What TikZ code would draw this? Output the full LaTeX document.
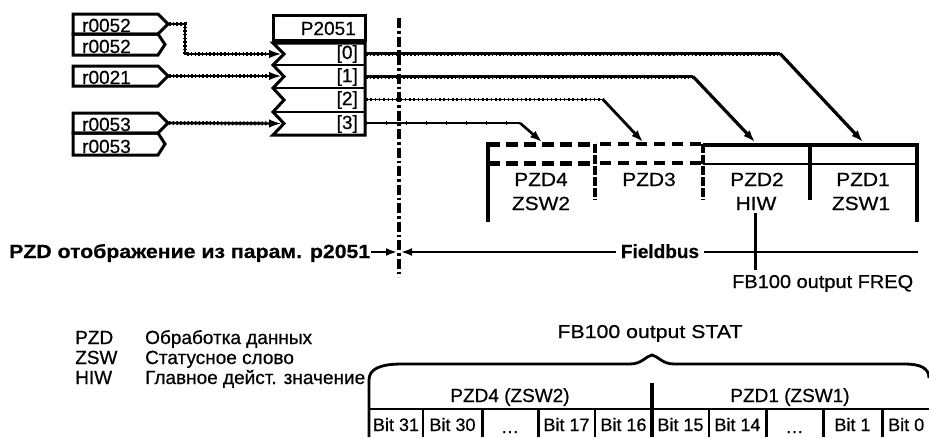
\documentclass[tikz,border=0pt]{standalone}
\usepackage{fontspec}
\usepackage{graphicx}
\setmainfont{Liberation Sans}
\newfontfamily\lblfont[FakeBold=0.6]{Liberation Sans}
\newfontfamily\bldfont[BoldFeatures={FakeBold=0.5}]{Liberation Sans}
\usetikzlibrary{arrows.meta}
\begin{document}
\begin{tikzpicture}[x=1pt,y=-1pt,line join=miter]
\tikzset{
  lbl/.style={inner sep=0pt, text=black, font=\lblfont\fontsize{19pt}{22pt}\selectfont},
  bits/.style={inner sep=0pt, text=black, font=\lblfont\fontsize{18pt}{20pt}\selectfont},
  boldlbl/.style={inner sep=0pt, font=\bldfont\fontsize{19pt}{22pt}\selectfont\bfseries},
  boxline/.style={line width=3pt},
  thinline/.style={line width=2.2pt},
  core/.style={line width=2.4pt},
  bumps/.style={line width=4pt, dash pattern=on 1.5pt off 2.2pt},
  coreb/.style={line width=1.8pt},
  bumpsb/.style={line width=3.4pt, dash pattern=on 1.5pt off 2.8pt},
  solidln/.style={line width=2.2pt},
  ticks/.style={line width=3.6pt, dash pattern=on 1pt off 19pt},
  tipA/.style={-{Latex[length=12pt,width=8.5pt]}},
  diag/.style={line width=3.2pt, tipA},
  dashdot/.style={line width=4pt, dash pattern=on 10pt off 3pt on 2.5pt off 3pt},
  heavydash/.style={line width=5pt, dash pattern=on 12pt off 6pt},
  meddash/.style={line width=4pt, dash pattern=on 11pt off 7pt},
  vdash/.style={line width=4pt, dash pattern=on 9pt off 2pt},
}
\useasboundingbox (0,0) rectangle (929,437);

% ---------- input parameter boxes ----------
\draw[boxline] (73,14) -- (158,14) -- (168,24) -- (158,34) -- (73,34) -- cycle;
\draw[boxline] (73,34) -- (158,34) -- (165,44.5) -- (158,55) -- (73,55) -- cycle;
\draw[boxline] (73,66) -- (158,66) -- (168,76) -- (158,86) -- (73,86) -- cycle;
\draw[boxline] (73,113) -- (158,113) -- (168,123) -- (158,133) -- (73,133) -- cycle;
\draw[boxline] (73,133) -- (158,133) -- (165,144) -- (158,155) -- (73,155) -- cycle;
\node[lbl, anchor=base west] (ra) at (82,32) {r0052};
\node[lbl, anchor=base west] (rb) at (82,53) {r0052};
\node[lbl, anchor=base west] (rc) at (82,84) {r0021};
\node[lbl, anchor=base west] (rd) at (82,131) {r0053};
\node[lbl, anchor=base west] (re) at (82,153) {r0053};
\coordinate (ina) at (169,24);
\coordinate (inc) at (169,76);
\coordinate (ind) at (169,123);

% ---------- P2051 block ----------
\draw[boxline] (273,15) rectangle (365,40);
\node[lbl, anchor=base east] (ptitle) at (356,35) {P2051};
\draw[boxline] (273,43) -- (284,54) -- (273,65) -- (284,76.5) -- (273,88) -- (284,100) -- (273,112) -- (284,123.5) -- (273,135) -- (365,135) -- (365,43) -- cycle;
\draw[thinline] (273,65) -- (365,65);
\draw[thinline] (273,88) -- (365,88);
\draw[thinline] (273,112) -- (365,112);
\node[lbl, anchor=base east] (i0) at (358,59) {[0]};
\node[lbl, anchor=base east] (i1) at (358,82) {[1]};
\node[lbl, anchor=base east] (i2) at (358,105) {[2]};
\node[lbl, anchor=base east] (i3) at (358,129) {[3]};
\coordinate (n0) at (281,54);
\coordinate (n1) at (281,76);
\coordinate (n3) at (281,123.5);

% input connectors
\coordinate (ka) at (185,24);
\coordinate (kb) at (185,54);
\draw[core] (ina) -- (ka) -- (kb) -- ([xshift=-9pt]n0);
\draw[bumps] (ina) -- (ka) -- (kb) -- ([xshift=-9pt]n0);
\draw[line width=1.5pt, tipA] ([xshift=-10pt]n0) -- (n0);
\draw[core] (inc) -- ([xshift=-9pt]n1);
\draw[bumps] (inc) -- ([xshift=-9pt]n1);
\draw[line width=1.5pt, tipA] ([xshift=-10pt]n1) -- (n1);
\draw[core] (ind) -- ([xshift=-9pt]n3);
\draw[bumps] (ind) -- ([xshift=-9pt]n3);
\draw[line width=1.5pt, tipA] ([xshift=-10pt]n3) -- (n3);

% ---------- output connectors ----------
\coordinate (o0) at (366,53.5);
\coordinate (o1) at (366,76.5);
\coordinate (o2) at (366,99.5);
\coordinate (o3) at (366,123);
\coordinate (b0) at (780,53.5);
\coordinate (b1) at (693,76.5);
\coordinate (b2) at (603,99.5);
\coordinate (b3) at (520,123);
\coordinate (t0) at (863,142);
\coordinate (t1) at (755,142);
\coordinate (t2) at (643,142);
\coordinate (t3) at (542,142);
\draw[core] (o0) -- (b0);
\draw[bumps] (o0) -- (b0);
\draw[diag] (b0) -- (t0);
\draw[core] (o1) -- (b1);
\draw[bumps] (o1) -- (b1);
\draw[diag] (b1) -- (t1);
\draw[coreb] (o2) -- (b2);
\draw[bumpsb] (o2) -- (b2);
\draw[diag, line width=2.8pt] (b2) -- (t2);
\draw[solidln] (o3) -- (b3);
\draw[ticks] (o3) -- (b3);
\draw[diag, line width=2.6pt] (b3) -- (t3);

% ---------- dash-dot separator ----------
\coordinate (sepT) at (399,18);
\coordinate (sepB) at (399,277);
\draw[dashdot] (sepT) -- (sepB);

% ---------- PZD telegram boxes ----------
\draw[heavydash] (488,144) -- (596,144);
\draw[meddash] (600,144) -- (703,144);
\draw[heavydash] (488,163) -- (596,163);
\draw[meddash] (600,163) -- (703,163);
\draw[line width=4.5pt] (488,142) -- (488,222);
\draw[vdash] (595,144) -- (595,200);
\draw[vdash] (703,144) -- (703,200);
\draw[line width=3.6pt] (703,145) -- (918,145);
\draw[line width=2.8pt] (703,164) -- (918,164);
\draw[line width=3.6pt] (810,143) -- (810,200);
\draw[line width=4pt] (917,143) -- (917,222);

\node[lbl, anchor=base] (pzd4) at (541,186) {\scalebox{1.1}[1]{PZD4}};
\node[lbl, anchor=base] (zsw2) at (541,210) {\scalebox{1.1}[1]{ZSW2}};
\node[lbl, anchor=base] (pzd3) at (649,186) {\scalebox{1.1}[1]{PZD3}};
\node[lbl, anchor=base] (pzd2) at (757,186) {\scalebox{1.1}[1]{PZD2}};
\node[lbl, anchor=base] (hiw) at (756,210) {\scalebox{1.1}[1]{HIW}};
\node[lbl, anchor=base] (pzd1) at (863,186) {\scalebox{1.1}[1]{PZD1}};
\node[lbl, anchor=base] (zsw1) at (861,210) {\scalebox{1.1}[1]{ZSW1}};

% ---------- Fieldbus line ----------
\node[boldlbl, anchor=base west, inner xsep=1pt] (pmap) at (8,258)
  {\resizebox{361pt}{14pt}{PZD отображение из парам. p2051}};
\node[boldlbl, anchor=base, inner xsep=5pt] (fbus) at (660,258) {Fieldbus};
\coordinate (arrR) at (397,252);
\coordinate (arrL) at (401,252);
\coordinate (fbEnd) at (918,252);
\draw[line width=2.4pt, -{Latex[length=11pt,width=8pt]}] (pmap.east |- arrR) -- (arrR);
\draw[line width=2.4pt, -{Latex[length=11pt,width=8pt]}] (fbus.west |- arrL) -- (arrL);
\draw[line width=2.4pt] (fbus.east |- fbEnd) -- (fbEnd);
\coordinate (freqT) at (755,213);
\coordinate (freqB) at (755,270);
\draw[line width=3pt] (freqT) -- (freqB);
\node[lbl, anchor=base west] (freq) at (732,288) {\resizebox{181pt}{13pt}{FB100 output FREQ}};

% ---------- legend ----------
\node[lbl, anchor=base west] (lgA) at (75,344) {PZD};
\node[lbl, anchor=base west] (lgB) at (75,364) {ZSW};
\node[lbl, anchor=base west] (lgC) at (75,384) {HIW};
\node[lbl, anchor=base west] (lgAt) at (145,344) {Обработка данных};
\node[lbl, anchor=base west] (lgBt) at (145,364) {Статусное слово};
\node[lbl, anchor=base west] (lgCt) at (145,384) {Главное дейст. значение};

% ---------- STAT word ----------
\node[lbl, anchor=base] (stat) at (650,338) {\resizebox{185pt}{13pt}{FB100 output STAT}};
\coordinate (brL) at (369,437);
\coordinate (brTip) at (652,355);
\draw[line width=2.8pt] (brL) -- (369,380) .. controls (369,369) and (380,364) .. (402,364)
  -- (630,364) .. controls (642,364) and (646,356) .. (brTip)
  .. controls (658,356) and (662,364) .. (674,364) -- (905,364)
  .. controls (920,364) and (929,368) .. (929,378);
\draw[line width=2.4pt] (369,409) -- (929,409);
\draw[line width=4pt] (652,383) -- (652,437);
\foreach \xx/\w in {423/2.2,482/3,538/3,595/2.2,709/2.2,766/3,823/3,882/3}
  \draw[line width=\w pt] (\xx,409) -- (\xx,437);
\node[lbl, anchor=base] (hiword) at (510,402) {PZD4 (ZSW2)};
\node[lbl, anchor=base] (loword) at (790,402) {PZD1 (ZSW1)};
\node[bits, anchor=base] (b31) at (396,431) {Bit 31};
\node[bits, anchor=base] (b30) at (452.5,431) {Bit 30};
\node[bits, anchor=base] (bd1) at (510,433) {\dots};
\node[bits, anchor=base] (b17) at (566.5,431) {Bit 17};
\node[bits, anchor=base] (b16) at (623.5,431) {Bit 16};
\node[bits, anchor=base] (b15) at (680.5,431) {Bit 15};
\node[bits, anchor=base] (b14) at (737.5,431) {Bit 14};
\node[bits, anchor=base] (bd2) at (794.5,433) {\dots};
\node[bits, anchor=base] (b1) at (852.5,431) {Bit 1};
\node[bits, anchor=base west] (b0) at (888,431) {Bit 0};
\end{tikzpicture}
\end{document}
